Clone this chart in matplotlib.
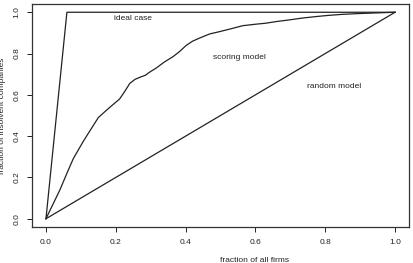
import matplotlib.pyplot as plt
import numpy as np

plt.rcParams['font.family'] = ['Liberation Sans', 'DejaVu Sans']

# courbe du modele de scoring
score_x = [0.0, 0.02, 0.04, 0.06, 0.078, 0.095, 0.107, 0.12, 0.135, 0.15, 0.173, 0.19,
           0.211, 0.225, 0.24, 0.255, 0.269, 0.285, 0.297, 0.316, 0.34, 0.364, 0.383,
           0.402, 0.42, 0.44, 0.469, 0.497, 0.53, 0.564, 0.6, 0.63, 0.66, 0.697, 0.735,
           0.773, 0.81, 0.85, 0.9, 0.95, 1.0]
score_y = [0.0, 0.07, 0.14, 0.22, 0.29, 0.34, 0.375, 0.41, 0.45, 0.49, 0.525, 0.55,
           0.58, 0.615, 0.655, 0.675, 0.685, 0.695, 0.71, 0.73, 0.76, 0.785, 0.81,
           0.84, 0.86, 0.875, 0.895, 0.906, 0.92, 0.935, 0.942, 0.947, 0.955, 0.963, 0.972,
           0.979, 0.985, 0.99, 0.994, 0.997, 1.0]

ideal_x = [0.0, 0.06, 1.0]
ideal_y = [0.0, 1.0, 1.0]

random_x = [0.0, 1.0]
random_y = [0.0, 1.0]

ticks = [0.0, 0.2, 0.4, 0.6, 0.8, 1.0]
tick_labels = ['0.0', '0.2', '0.4', '0.6', '0.8', '1.0']

fig = plt.figure(figsize=(4.13, 2.63), dpi=100)
ax = fig.add_axes([32 / 413, 1 - 227 / 263, 377 / 413, 223 / 263])

couleur = '#222222'
ax.plot(score_x, score_y, color=couleur, lw=0.9)
ax.plot(ideal_x, ideal_y, color=couleur, lw=0.9)
ax.plot(random_x, random_y, color=couleur, lw=0.9)

ax.text(0.25, 0.97, 'ideal case', fontsize=6, ha='center', va='center', color=couleur)
ax.text(0.554, 0.78, 'scoring model', fontsize=6, ha='center', va='center', color=couleur)
ax.text(0.826, 0.64, 'random model', fontsize=6, ha='center', va='center', color=couleur)

ax.set_xlim(-0.04, 1.04)
ax.set_ylim(-0.04, 1.04)
ax.set_xticks(ticks)
ax.set_xticklabels(tick_labels)
ax.set_yticks(ticks)
ax.set_yticklabels(tick_labels, rotation=90, va='center')
ax.tick_params(direction='out', length=3.5, width=0.7, labelsize=6, colors=couleur, pad=5)
for s in ax.spines.values():
    s.set_linewidth(0.9)
    s.set_color('#333333')

ax.set_xlabel('fraction of all firms', fontsize=6, color=couleur)
ax.xaxis.set_label_coords((254 - 32) / 377, -(256.5 - 227) / 223)
ax.set_ylabel('fraction of insolvent companies', fontsize=6, color=couleur)
ax.yaxis.set_label_coords(-(32 - 6.5) / 377, 0.5)

fig.savefig('out.png', dpi=100)
